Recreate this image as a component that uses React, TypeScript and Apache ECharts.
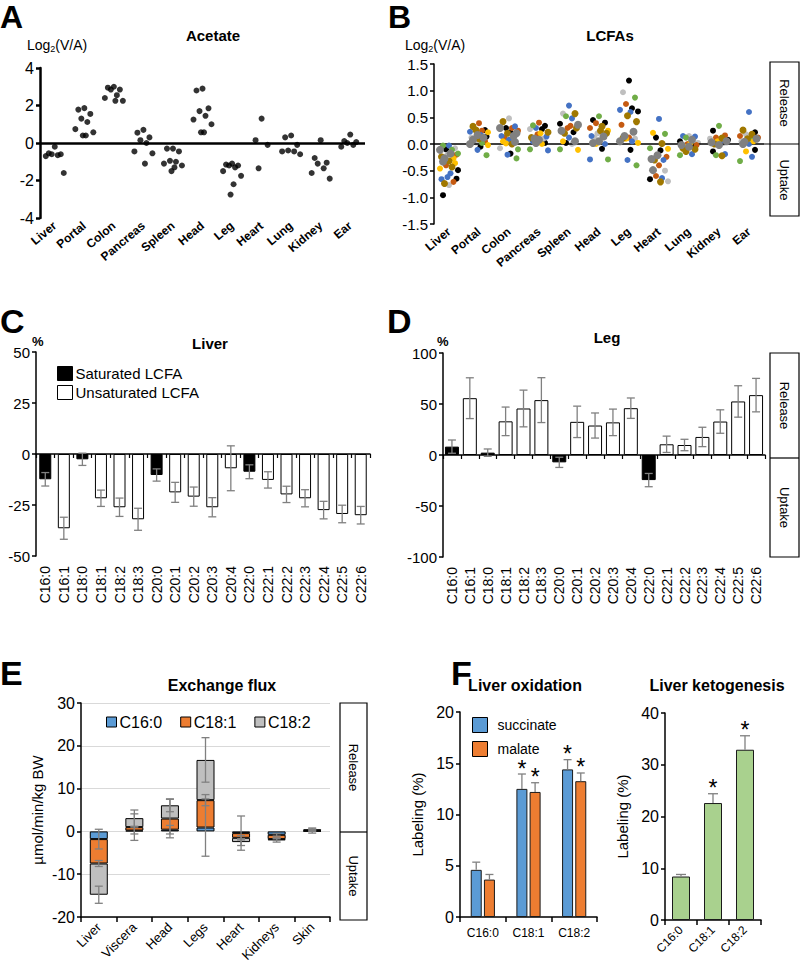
import React, { useEffect, useRef } from "react";
import * as echarts from "echarts";

const FONT = "'Liberation Sans', Arial, Helvetica, sans-serif";

// ---------- Panel A: acetate Log2(V/A) ----------
const organs = ["Liver", "Portal", "Colon", "Pancreas", "Spleen", "Head", "Leg", "Heart", "Lung", "Kidney", "Ear"];
const acetateValues: number[][] = [
  [-0.2, -0.55, -0.6, -0.6, -0.65, -0.7, -1.6],
  [1.86, 1.78, 1.55, 1.3, 1.12, 0.74, 0.57, 0.4, 0.4],
  [3.0, 2.95, 2.85, 2.85, 2.55, 2.4, 2.25, 2.25],
  [0.7, 0.55, 0.3, 0.15, 0.0, -0.45, -0.55, -1.1],
  [-0.3, -0.3, -0.45, -0.95, -1.0, -1.1, -1.2, -1.3, -1.5],
  [2.9, 2.8, 1.85, 1.7, 1.45, 1.25, 1.0, 0.57, 0.57],
  [-1.1, -1.15, -1.2, -1.2, -1.3, -1.5, -1.75, -2.2, -2.75],
  [1.3, 0.15, -0.1, -1.35],
  [0.4, 0.3, -0.1, -0.4, -0.45, -0.45, -0.6],
  [0.15, -0.8, -1.05, -1.1, -1.35, -1.6, -1.9],
  [0.45, 0.1, 0.05, 0.0, -0.1, -0.2],
];

// ---------- Panel B: LCFAs Log2(V/A), one array per colour ----------
const lcfaBlack: number[][] = [[-0.96, -0.49, -0.65, -0.1], [0.26, 0.14, -0.05], [0.3, -0.18, 0.22], [0.34, 0.02, 0.28], [0.22, 0.38, 0.02], [0.45, -0.09, 0.4], [1.19, 0.67, 0.61, -0.11], [0.12, -0.12, -0.66], [0.05, -0.05], [0.25, -0.14, 0.08], [0.22, -0.11]];
const lcfaLightGray: number[][] = [[-0.77, -0.08, -0.2], [0.03, 0.12], [0.48, -0.08], [0.28, 0.1], [0.57, 0.0], [0.2, 0.12], [0.97, 0.1], [-0.7, -0.5], [0.15, 0.02], [0.02, 0.1], [0.18, 0.05]];
const lcfaRust: number[][] = [[-0.71, -0.2, -0.4], [0.39, 0.25, 0.05], [0.25, 0.12, 0.3], [0.4, 0.18], [0.34, 0.3], [0.39, 0.3], [0.75, 0.36, 0.12], [-0.4, -0.24, -0.6], [0.0, -0.02], [0.16, 0.12], [0.12, 0.15]];
const lcfaBlue: number[][] = [[-0.03, -0.55, -0.62, -0.66], [0.23, 0.17, -0.11, 0.1], [0.33, 0.08, -0.2, 0.15], [0.14, -0.12, 0.3, 0.05], [0.72, 0.48, 0.12], [0.0, -0.29, 0.15], [0.64, 0.6, -0.3, 0.05], [0.47, -0.64, -0.3], [0.15, -0.19, 0.14], [-0.19, 0.05], [0.6, -0.24, 0.0]];
const lcfaGreen: number[][] = [[-0.18, -0.11, -0.03], [-0.21, 0.02], [-0.27, -0.1], [0.35, -0.1], [0.52, -0.1], [0.52, -0.29], [0.87, -0.4], [0.19, -0.08], [0.12, -0.21], [0.34, -0.21], [-0.32, 0.1]];
const lcfaYellow: number[][] = [[-0.27, -0.36, -0.46], [0.22, -0.02], [0.01, 0.05], [0.2, 0.0], [-0.11, 0.05], [0.25, 0.0], [0.1, 0.02], [0.21, -0.09], [0.02, -0.05], [0.05], [-0.14, 0.05]];
const lcfaGold: number[][] = [[-0.74, -0.43, -0.24, -0.32], [0.33, 0.26, 0.1], [0.42, 0.2, 0.0], [0.22, 0.12], [0.57, 0.3, 0.2], [0.33, 0.2, 0.25], [0.53, 0.42, 0.11], [0.01, -0.71, -0.3], [-0.08, -0.14, -0.1], [0.11, -0.22, 0.0], [0.26, 0.1, 0.18]];
const lcfaGray: number[][] = [[-0.11, -0.18, -0.33, -0.27], [0.17, 0.0, 0.08, 0.12], [0.3, 0.04, 0.15, 0.2], [0.08, 0.02, 0.1], [0.36, 0.05, 0.25], [0.14, 0.05, 0.02], [0.23, 0.05, 0.15], [-0.21, -0.49, -0.28], [0.08, -0.02, -0.05], [0.03, 0.05, -0.02], [0.04, 0.1, 0.0]];

// ---------- Panels C & D: % exchange per fatty acid ----------
const fattyAcids = ["C16:0", "C16:1", "C18:0", "C18:1", "C18:2", "C18:3", "C20:0", "C20:1", "C20:2", "C20:3", "C20:4", "C22:0", "C22:1", "C22:2", "C22:3", "C22:4", "C22:5", "C22:6"];
const liverMean = [-12.4, -36.4, -2.6, -21.7, -26.1, -32.0, -10.3, -18.8, -20.9, -26.1, -7.0, -8.7, -12.7, -19.8, -21.7, -27.5, -29.4, -30.0];
const liverErr = [3.3, 5.4, 3.0, 4.0, 4.5, 5.4, 3.0, 4.9, 4.7, 4.7, 11.0, 3.4, 4.0, 4.0, 4.2, 4.3, 4.3, 4.3];
const legMean = [8.2, 55.7, 2.3, 33.0, 45.6, 53.8, -7.2, 32.5, 28.9, 32.0, 45.9, -24.6, 10.5, 9.8, 17.7, 32.8, 52.5, 58.7];
const legErr = [6.5, 20.0, 3.6, 14.0, 18.0, 22.0, 5.0, 15.4, 12.3, 13.0, 10.0, 6.5, 8.0, 5.6, 9.5, 11.5, 15.4, 16.4];

// ---------- Panel E: exchange flux ----------
const fluxOrgans = ["Liver", "Viscera", "Head", "Legs", "Heart", "Kidneys", "Skin"];
const fluxC160 = [-1.8, 0.2, 0.4, 0.9, -0.4, -0.8, 0.1];
const fluxC181 = [-5.7, 0.8, 2.6, 6.4, -1.1, -1.0, 0.1];
const fluxC182 = [-7.3, 2.1, 3.1, 9.4, -1.0, -0.3, 0.3];
const fluxErrC160 = [2.3, 0.8, 1.0, 6.7, 4.0, 0.3, 0.5];
const fluxErrC181 = [0.7, 3.1, 4.5, 1.3, 0.5, 0.3, 0.2];
const fluxErrC182 = [2.0, 1.9, 1.5, 5.2, 0.8, 0.4, 0.3];

// ---------- Panel F ----------
const oxAcids = ["C16:0", "C18:1", "C18:2"];
const succinateMean = [4.6, 12.5, 14.4];
const succinateErr = [0.75, 1.45, 0.95];
const malateMean = [3.65, 12.2, 13.25];
const malateErr = [0.5, 0.9, 0.8];
const oxSignificant = [false, true, true];
const ketoMean = [8.4, 22.6, 32.9];
const ketoErr = [0.4, 1.8, 2.7];
const ketoSignificant = [false, true, true];

// ---------- helpers ----------
const SWARM = [0, -1, 1, -0.5, 0.5, -1.5, 1.5, 0.25, -0.25, 1.25, -1.25, 0.75, -0.75];

function buildSwarm(sets: number[][][], spread: number) {
  const out: any[][] = sets.map(() => []);
  const nCat = sets[0].length;
  for (let c = 0; c < nCat; c++) {
    const pts: { s: number; v: number }[] = [];
    sets.forEach((set, s) => (set[c] || []).forEach((v) => pts.push({ s, v })));
    pts.sort((a, b) => b.v - a.v);
    pts.forEach((p, r) => {
      out[p.s].push({ value: [c, p.v], symbolOffset: [SWARM[r % SWARM.length] * spread, 0] });
    });
  }
  return out;
}

function errorSeries(
  xAxisIndex: number,
  yAxisIndex: number,
  data: number[][],
  cfg: { offset?: number; cap: number; color: string; lowerCap: boolean; star?: boolean[] }
) {
  return {
    type: "custom",
    xAxisIndex,
    yAxisIndex,
    z: 10,
    silent: true,
    encode: { x: 0, y: [1, 2] },
    data,
    renderItem: (params: any, api: any) => {
      const x = api.value(0);
      const p1 = api.coord([x, api.value(1)]);
      const p2 = api.coord([x, api.value(2)]);
      const cx = p1[0] + (cfg.offset || 0);
      const st = { stroke: cfg.color, lineWidth: 1.3, fill: "none" };
      const children: any[] = [
        { type: "line", shape: { x1: cx, y1: p1[1], x2: cx, y2: p2[1] }, style: st },
        { type: "line", shape: { x1: cx - cfg.cap, y1: p2[1], x2: cx + cfg.cap, y2: p2[1] }, style: st },
      ];
      if (cfg.lowerCap) {
        children.push({ type: "line", shape: { x1: cx - cfg.cap, y1: p1[1], x2: cx + cfg.cap, y2: p1[1] }, style: st });
      }
      if (cfg.star && cfg.star[params.dataIndex]) {
        children.push({
          type: "text",
          x: cx,
          y: p2[1] - 5.5,
          style: {
            text: "*",
            textAlign: "center",
            textVerticalAlign: "middle",
            fontSize: 23,
            lineHeight: 12,
            fontFamily: FONT,
            fill: "#000",
          },
        });
      }
      return { type: "group", children };
    },
  };
}

function valueAxis(gridIndex: number, min: number, max: number, interval: number, fontSize: number, lineWidth = 1.5, extra: any = {}) {
  return {
    type: "value",
    gridIndex,
    min,
    max,
    interval,
    axisLine: { show: true, onZero: false, lineStyle: { color: "#000", width: lineWidth } },
    axisTick: { show: true, length: 4, lineStyle: { color: "#000", width: lineWidth } },
    axisLabel: { color: "#000", fontFamily: FONT, fontSize, margin: 6 },
    splitLine: { show: false },
    ...extra,
  };
}

function labelAxis(gridIndex: number, data: string[], labelCfg: any) {
  return {
    type: "category",
    gridIndex,
    data,
    position: "bottom",
    axisLine: { show: false, onZero: false },
    axisTick: { show: false },
    axisLabel: { color: "#000", fontFamily: FONT, interval: 0, ...labelCfg },
  };
}

function zeroAxis(gridIndex: number, data: string[]) {
  return {
    type: "category",
    gridIndex,
    data,
    position: "bottom",
    axisLine: { show: true, onZero: true, lineStyle: { color: "#000", width: 1.5 } },
    axisTick: { show: true, length: 4, interval: 0, lineStyle: { color: "#000", width: 1.2 } },
    axisLabel: { show: false },
  };
}

function boxGraphic(x: number, y: number, w: number, h: number, mid: number, lineFrom: number) {
  const txt = (t: string, cy: number) => ({
    type: "text",
    x: x + w / 2,
    y: cy,
    rotation: -Math.PI / 2,
    style: { text: t, textAlign: "center", textVerticalAlign: "middle", fontSize: 13, fontFamily: FONT, fill: "#000" },
  });
  return [
    { type: "rect", shape: { x, y, width: w, height: h }, style: { fill: "#fff", stroke: "#000", lineWidth: 1.2 } },
    { type: "line", shape: { x1: lineFrom, y1: mid, x2: x + w, y2: mid }, style: { stroke: "#000", lineWidth: 1.2 } },
    txt("Release", (y + mid) / 2),
    txt("Uptake", (mid + y + h) / 2),
  ];
}

function textG(text: string, x: number, y: number, size: number, bold: boolean, align = "center") {
  return {
    type: "text",
    x,
    y,
    style: {
      text,
      textAlign: align,
      textVerticalAlign: "middle",
      fontSize: size,
      fontWeight: bold ? "bold" : "normal",
      fontFamily: FONT,
      fill: "#000",
    },
  };
}

function logLabel(x: number, y: number) {
  return {
    type: "text",
    x,
    y,
    style: {
      text: "Log{s|2}(V/A)",
      textAlign: "left",
      textVerticalAlign: "middle",
      fontSize: 14,
      fontFamily: FONT,
      fill: "#000",
      rich: { s: { fontSize: 9, fontFamily: FONT, fill: "#000", padding: [8, 0, 0, 0] } },
    },
  };
}

export default function App() {
  const ref = useRef<HTMLDivElement>(null);

  useEffect(() => {
    if (!ref.current) return;
    const chart = echarts.init(ref.current, undefined, { renderer: "svg" });

    const swarmA = buildSwarm([acetateValues], 6)[0];
    const lcfaSets = [lcfaBlack, lcfaLightGray, lcfaRust, lcfaBlue, lcfaGreen, lcfaYellow, lcfaGold, lcfaGray];
    const lcfaColors = ["#000000", "#BFBFBF", "#C55A11", "#4472C4", "#70AD47", "#FFC000", "#A07800", "#808080"];
    const lcfaSizes = [6, 6, 6, 6, 6, 6, 7, 8];
    const swarmB = buildSwarm(lcfaSets, 6);

    const isSat = fattyAcids.map((f) => f.endsWith(":0"));

    const zeroMark = (width: number) => ({
      silent: true,
      symbol: ["none", "none"],
      label: { show: false },
      lineStyle: { color: "#000", width, type: "solid" },
      data: [{ yAxis: 0 }],
    });

    const cum1 = fluxC160.map((v) => v);
    const cum2 = fluxC160.map((v, i) => v + fluxC181[i]);
    const cum3 = fluxC160.map((v, i) => v + fluxC181[i] + fluxC182[i]);
    const symErr = (ends: number[], errs: number[]) => ends.map((e, i) => [i, e - errs[i], e + errs[i]]);
    const upErr = (means: number[], errs: number[]) => means.map((m, i) => [i, m, m + errs[i]]);

    const option: any = {
      animation: false,
      textStyle: { fontFamily: FONT },
      grid: [
        { left: 40, top: 68, width: 325, height: 150 },
        { left: 434, top: 64, width: 330, height: 160 },
        { left: 36, top: 352, width: 334, height: 204 },
        { left: 443, top: 353, width: 322, height: 204 },
        { left: 81, top: 703, width: 249, height: 214 },
        { left: 460, top: 712, width: 137, height: 205 },
        { left: 665, top: 713, width: 96, height: 207 },
      ],
      xAxis: [
        labelAxis(0, organs, { rotate: 40, fontSize: 12, fontWeight: "bold", margin: 6 }),
        labelAxis(1, organs, { rotate: 40, fontSize: 12, fontWeight: "bold", margin: 6 }),
        zeroAxis(2, fattyAcids),
        labelAxis(2, fattyAcids, { rotate: 90, fontSize: 14, margin: 10 }),
        zeroAxis(3, fattyAcids),
        labelAxis(3, fattyAcids, { rotate: 90, fontSize: 14, margin: 10 }),
        {
          type: "category",
          gridIndex: 4,
          data: fluxOrgans,
          axisLine: { show: true, onZero: false, lineStyle: { color: "#000", width: 1.5 } },
          axisTick: { show: true, length: 5, lineStyle: { color: "#000", width: 1.5 } },
          axisLabel: { color: "#000", fontFamily: FONT, fontSize: 13, rotate: 45, interval: 0, margin: 8 },
        },
        {
          type: "category",
          gridIndex: 5,
          data: oxAcids,
          axisLine: { show: true, onZero: false, lineStyle: { color: "#000", width: 1.5 } },
          axisTick: { show: true, length: 5, lineStyle: { color: "#000", width: 1.5 } },
          axisLabel: { color: "#000", fontFamily: FONT, fontSize: 12, interval: 0, margin: 10 },
        },
        {
          type: "category",
          gridIndex: 6,
          data: oxAcids,
          axisLine: { show: true, onZero: false, lineStyle: { color: "#000", width: 1.5 } },
          axisTick: { show: true, length: 5, lineStyle: { color: "#000", width: 1.5 } },
          axisLabel: { color: "#000", fontFamily: FONT, fontSize: 12, rotate: 45, interval: 0, margin: 8 },
        },
      ],
      yAxis: [
        valueAxis(0, -4, 4, 2, 16, 2.5),
        valueAxis(1, -1.5, 1.5, 0.5, 15, 1.5, {
          axisLabel: { color: "#000", fontFamily: FONT, fontSize: 15, margin: 6, formatter: (v: number) => v.toFixed(1) },
        }),
        valueAxis(2, -50, 50, 25, 15),
        valueAxis(3, -100, 100, 50, 15),
        valueAxis(4, -20, 30, 10, 16, 1.5, {
          splitLine: { show: true, lineStyle: { color: "#D9D9D9", width: 1 } },
          name: "µmol/min/kg BW",
          nameLocation: "middle",
          nameRotate: 90,
          nameGap: 36,
          nameTextStyle: { color: "#000", fontSize: 15, fontFamily: FONT },
        }),
        valueAxis(5, 0, 20, 5, 16, 1.5, {
          name: "Labeling (%)",
          nameLocation: "middle",
          nameRotate: 90,
          nameGap: 35,
          nameTextStyle: { color: "#000", fontSize: 15, fontFamily: FONT },
        }),
        valueAxis(6, 0, 40, 10, 16, 1.5, {
          name: "Labeling (%)",
          nameLocation: "middle",
          nameRotate: 90,
          nameGap: 35,
          nameTextStyle: { color: "#000", fontSize: 15, fontFamily: FONT },
        }),
      ],
      legend: [
        {
          data: ["Saturated LCFA", "Unsaturated LCFA"],
          orient: "vertical",
          left: 52,
          top: 361,
          itemWidth: 15,
          itemHeight: 14,
          itemGap: 4,
          icon: "rect",
          itemStyle: { borderColor: "#000", borderWidth: 1 },
          textStyle: { color: "#000", fontSize: 15, fontFamily: FONT, padding: [0, 0, 0, -2] },
        },
        {
          data: ["C16:0", "C18:1", "C18:2"],
          orient: "horizontal",
          left: 101,
          top: 709,
          itemWidth: 10,
          itemHeight: 10,
          itemGap: 18,
          icon: "rect",
          itemStyle: { borderColor: "#000", borderWidth: 1 },
          textStyle: { color: "#000", fontSize: 16, fontFamily: FONT, padding: [0, 0, 0, -2] },
        },
        {
          data: ["succinate", "malate"],
          orient: "vertical",
          left: 467,
          top: 712,
          itemWidth: 15,
          itemHeight: 15,
          itemGap: 8,
          icon: "rect",
          itemStyle: { borderColor: "#000", borderWidth: 1 },
          textStyle: { color: "#000", fontSize: 14, fontFamily: FONT, padding: [0, 0, 0, 5] },
        },
      ],
      series: [
        // A
        {
          type: "scatter",
          xAxisIndex: 0,
          yAxisIndex: 0,
          symbolSize: 6,
          itemStyle: { color: "#000" },
          data: swarmA,
          markLine: zeroMark(2.5),
        },
        // B
        ...lcfaSets.map((_, s) => ({
          type: "scatter",
          xAxisIndex: 1,
          yAxisIndex: 1,
          symbolSize: lcfaSizes[s],
          itemStyle: { color: lcfaColors[s], opacity: 1 },
          data: swarmB[s],
          z: 3 + s,
          ...(s === 0 ? { markLine: zeroMark(1.5) } : {}),
        })),
        // C
        {
          name: "Saturated LCFA",
          type: "bar",
          xAxisIndex: 2,
          yAxisIndex: 2,
          barWidth: 12,
          barGap: "-100%",
          itemStyle: { color: "#000", borderColor: "#000", borderWidth: 1 },
          data: liverMean.map((v, i) => (isSat[i] ? v : "-")),
        },
        {
          name: "Unsaturated LCFA",
          type: "bar",
          xAxisIndex: 2,
          yAxisIndex: 2,
          barWidth: 12,
          barGap: "-100%",
          itemStyle: { color: "#fff", borderColor: "#000", borderWidth: 1 },
          data: liverMean.map((v, i) => (!isSat[i] ? v : "-")),
        },
        errorSeries(2, 2, symErr(liverMean, liverErr), { cap: 4, color: "#808080", lowerCap: true }),
        // D
        {
          name: "Leg saturated",
          type: "bar",
          xAxisIndex: 4,
          yAxisIndex: 3,
          barWidth: 14,
          barGap: "-100%",
          itemStyle: { color: "#000", borderColor: "#000", borderWidth: 1 },
          data: legMean.map((v, i) => (isSat[i] ? v : "-")),
        },
        {
          name: "Leg unsaturated",
          type: "bar",
          xAxisIndex: 4,
          yAxisIndex: 3,
          barWidth: 14,
          barGap: "-100%",
          itemStyle: { color: "#fff", borderColor: "#000", borderWidth: 1 },
          data: legMean.map((v, i) => (!isSat[i] ? v : "-")),
        },
        errorSeries(4, 3, symErr(legMean, legErr), { cap: 4, color: "#808080", lowerCap: true }),
        // E
        ...[
          { name: "C16:0", data: fluxC160, color: "#5B9BD5" },
          { name: "C18:1", data: fluxC181, color: "#ED7D31" },
          { name: "C18:2", data: fluxC182, color: "#BFBFBF" },
        ].map((s) => ({
          name: s.name,
          type: "bar",
          xAxisIndex: 6,
          yAxisIndex: 4,
          stack: "flux",
          stackStrategy: "samesign",
          barWidth: 18,
          itemStyle: { color: s.color, borderColor: "#000", borderWidth: 1 },
          data: s.data,
        })),
        errorSeries(6, 4, symErr(cum1, fluxErrC160), { cap: 4, color: "#808080", lowerCap: true }),
        errorSeries(6, 4, symErr(cum2, fluxErrC181), { cap: 4, color: "#808080", lowerCap: true }),
        errorSeries(6, 4, symErr(cum3, fluxErrC182), { cap: 4, color: "#808080", lowerCap: true }),
        // F left
        {
          name: "succinate",
          type: "bar",
          xAxisIndex: 7,
          yAxisIndex: 5,
          barWidth: 11,
          barGap: "20%",
          itemStyle: { color: "#5B9BD5", borderColor: "#1a1a1a", borderWidth: 1 },
          data: succinateMean,
        },
        {
          name: "malate",
          type: "bar",
          xAxisIndex: 7,
          yAxisIndex: 5,
          barWidth: 11,
          barGap: "20%",
          itemStyle: { color: "#ED7D31", borderColor: "#1a1a1a", borderWidth: 1 },
          data: malateMean,
        },
        errorSeries(7, 5, upErr(succinateMean, succinateErr), { offset: -6.6, cap: 4, color: "#808080", lowerCap: false, star: oxSignificant }),
        errorSeries(7, 5, upErr(malateMean, malateErr), { offset: 6.6, cap: 4, color: "#808080", lowerCap: false, star: oxSignificant }),
        // F right
        {
          name: "ketogenesis",
          type: "bar",
          xAxisIndex: 8,
          yAxisIndex: 6,
          barWidth: 18,
          itemStyle: { color: "#A9D18E", borderColor: "#1a1a1a", borderWidth: 1 },
          data: ketoMean,
        },
        errorSeries(8, 6, upErr(ketoMean, ketoErr), { cap: 5, color: "#808080", lowerCap: false, star: ketoSignificant }),
      ],
      graphic: [
        // panel letters
        textG("A", 0, 17, 32, true, "left"),
        textG("B", 388, 17, 32, true, "left"),
        textG("C", 0, 321, 34, true, "left"),
        textG("D", 387, 321, 34, true, "left"),
        textG("E", 0, 673, 34, true, "left"),
        textG("F", 451, 673, 34, true, "left"),
        // titles
        textG("Acetate", 213, 35, 15, true),
        textG("LCFAs", 610, 35, 15, true),
        textG("Liver", 210, 343, 15, true),
        textG("Leg", 607, 337, 15, true),
        textG("Exchange flux", 222, 685, 16, true),
        textG("Liver oxidation", 525, 685, 16, true),
        textG("Liver ketogenesis", 717, 685, 16, true),
        // axis captions
        logLabel(27, 45),
        logLabel(405, 45),
        textG("%", 32, 341, 13, true, "left"),
        textG("%", 437, 341, 13, true, "left"),
        // release / uptake boxes
        ...boxGraphic(770, 62, 29, 154, 144, 764),
        ...boxGraphic(770, 353, 29, 204, 458, 770),
        ...boxGraphic(340, 703, 27, 217, 832, 340),
      ],
    };

    chart.setOption(option);
    return () => chart.dispose();
  }, []);

  return <div ref={ref} style={{ position: "absolute", left: 0, top: 0, width: 800, height: 977, background: "#fff" }} />;
}
